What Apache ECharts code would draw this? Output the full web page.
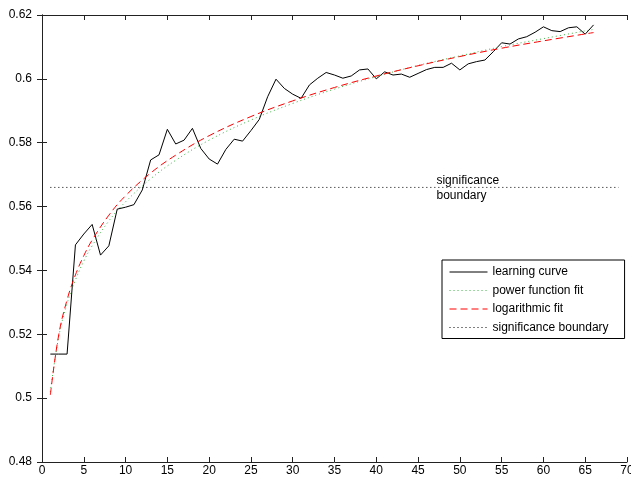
<!DOCTYPE html>
<html>
<head>
<meta charset="utf-8">
<script src="https://cdn.jsdelivr.net/npm/echarts@6/dist/echarts.min.js"></script>
<style>
  html, body { margin: 0; padding: 0; background: #fff; }
  #chart { width: 631px; height: 477px; }
</style>
</head>
<body>
<div id="chart"></div>
<script>
// Courbe d'apprentissage (x = 1..66)
const learningCurve = [
    0.5138, 0.5138, 0.5138, 0.5480, 0.5514, 0.5544, 0.5448, 0.5477, 0.5592, 0.5598,
    0.5606, 0.5652, 0.5746, 0.5762, 0.5842, 0.5796, 0.5808, 0.5845, 0.5782, 0.5749,
    0.5733, 0.5779, 0.5811, 0.5805, 0.5838, 0.5873, 0.5944, 0.5999, 0.5970, 0.5952,
    0.5939, 0.5981, 0.6002, 0.6020, 0.6012, 0.6002, 0.6009, 0.6028, 0.6031, 0.6000,
    0.6022, 0.6012, 0.6015, 0.6005, 0.6017, 0.6029, 0.6036, 0.6036, 0.6049, 0.6028,
    0.6047, 0.6054, 0.6059, 0.6085, 0.6113, 0.6109, 0.6125, 0.6132, 0.6146, 0.6163,
    0.6151, 0.6148, 0.6160, 0.6163, 0.6140, 0.6169
];

const fitX = [1, 2, 3, 4, 5, 6, 8, 10, 13, 16, 20, 25, 30, 35, 40, 45, 50, 55, 60, 66];
const powerFit = [0.5020, 0.5192, 0.5296, 0.5370, 0.5429, 0.5477, 0.5555, 0.5615, 0.5687, 0.5745,
                  0.5808, 0.5871, 0.5923, 0.5968, 0.6007, 0.6042, 0.6072, 0.6101, 0.6126, 0.6155];
const logFit = [0.5010, 0.5198, 0.5308, 0.5386, 0.5446, 0.5495, 0.5573, 0.5634, 0.5705, 0.5761,
                0.5822, 0.5882, 0.5931, 0.5973, 0.6009, 0.6041, 0.6070, 0.6096, 0.6119, 0.6145];

const sigX = [1, 69];
const sigLevel = 0.566;

const axisColor = '#222';
const font = 'Liberation Sans, Arial, sans-serif';

function pairs(xs, ys) {
    return xs.map((x, i) => [x, ys[i]]);
}

const chart = echarts.init(document.getElementById('chart'));

const option = {
    backgroundColor: '#fff',
    animation: false,
    textStyle: { fontFamily: font },
    grid: { left: 42, right: 4, top: 15, bottom: 15, containLabel: false, outerBoundsMode: 'none' },
    xAxis: [{
        type: 'value', min: 0, max: 70, interval: 5,
        axisLine: { lineStyle: { color: axisColor, width: 1 } },
        axisTick: { inside: true, length: 5, lineStyle: { color: axisColor } },
        axisLabel: { color: '#000', fontSize: 12, margin: 3, fontFamily: font },
        splitLine: { show: false }
    }, {
        type: 'value', min: 0, max: 70, interval: 5, position: 'top',
        axisLine: { show: true, lineStyle: { color: axisColor, width: 1 } },
        axisTick: { show: true, inside: true, length: 5, lineStyle: { color: axisColor } },
        axisLabel: { show: false },
        splitLine: { show: false }
    }],
    yAxis: [{
        type: 'value', min: 0.48, max: 0.62, interval: 0.02,
        axisLine: { show: true, lineStyle: { color: axisColor, width: 1 } },
        axisTick: { show: true, inside: true, length: 5, lineStyle: { color: axisColor } },
        axisLabel: { color: '#000', fontSize: 12, margin: 10, fontFamily: font,
                     formatter: v => String(parseFloat(v.toFixed(2))) },
        splitLine: { show: false }
    }, {
        type: 'value', min: 0.48, max: 0.62, interval: 0.02, position: 'right',
        axisLine: { show: true, lineStyle: { color: axisColor, width: 1 } },
        axisTick: { show: true, inside: true, length: 5, lineStyle: { color: axisColor } },
        axisLabel: { show: false },
        splitLine: { show: false }
    }],
    legend: {
        orient: 'vertical',
        left: 442, top: 260,
        padding: [6, 16, 5, 7],
        itemWidth: 38, itemHeight: 12, itemGap: 6.5,
        backgroundColor: '#fff',
        borderColor: '#000', borderWidth: 1,
        itemStyle: { opacity: 0 },
        lineStyle: { width: 1 },
        textStyle: { color: '#000', fontSize: 12, fontFamily: font },
        data: ['learning curve', 'power function fit', 'logarithmic fit', 'significance boundary']
    },
    series: [{
        name: 'learning curve',
        type: 'line',
        data: learningCurve.map((v, i) => [i + 1, v]),
        symbol: 'none',
        lineStyle: { color: '#000', width: 1 },
        itemStyle: { color: '#000' },
        z: 3
    }, {
        name: 'power function fit',
        type: 'line',
        data: pairs(fitX, powerFit),
        smooth: 0.4,
        symbol: 'none',
        lineStyle: { color: '#3cb043', width: 1, type: [1, 3] },
        itemStyle: { color: '#3cb043' },
        z: 4
    }, {
        name: 'logarithmic fit',
        type: 'line',
        data: pairs(fitX, logFit),
        smooth: 0.4,
        symbol: 'none',
        lineStyle: { color: '#ff0000', width: 1, type: [7, 4] },
        itemStyle: { color: '#ff0000' },
        z: 5
    }, {
        name: 'significance boundary',
        type: 'line',
        data: sigX.map(x => [x, sigLevel]),
        symbol: 'none',
        lineStyle: { color: '#000', width: 1, type: [1, 3] },
        itemStyle: { color: '#000' },
        markPoint: {
            symbol: 'circle',
            symbolSize: 0,
            data: [{ coord: [47.2, sigLevel] }],
            label: {
                show: true,
                position: 'right',
                distance: 0,
                offset: [0, 1],
                formatter: 'significance\nboundary',
                color: '#000',
                fontSize: 12,
                lineHeight: 15,
                align: 'left',
                fontFamily: font
            }
        },
        z: 2
    }]
};

chart.setOption(option);
</script>
</body>
</html>
